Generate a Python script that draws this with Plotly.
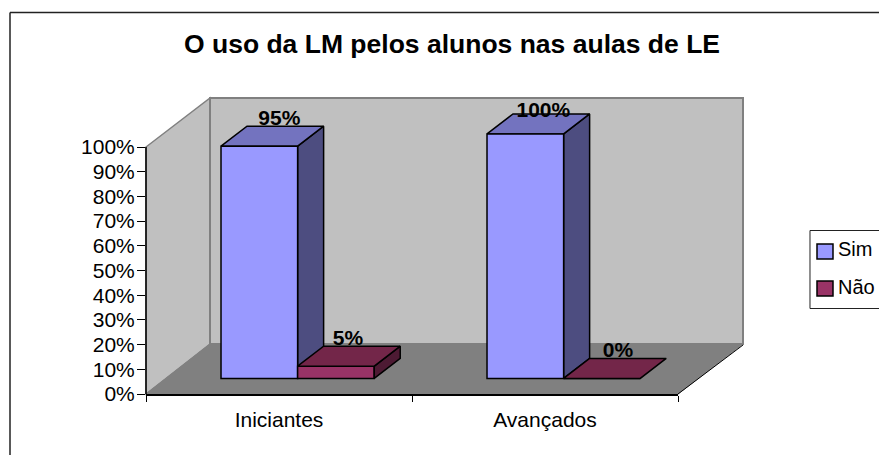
import plotly.graph_objects as go

categories = ["Iniciantes", "Avançados"]
series_names = ["Sim", "Não"]
sim_values = [0.95, 1.00]
nao_values = [0.05, 0.00]
sim_labels = ["95%", "100%"]
nao_labels = ["5%", "0%"]
y_ticks = [i / 10 for i in range(11)]

W, H = 879, 455
L, R, T, B = 146, 678, 98, 394
Y100 = 147
PW, PH = R - L, B - T
UNIT = B - Y100      # pixels for 100 %
BASE = 0.063         # bars stand on the floor, forward of the back wall
SCALE = 0.99
DX = 26 / 266        # bar depth in category units
DY = 20 / UNIT       # bar depth in value units
BAR_W = 0.288
OFF_SIM = -0.218
OFF_NAO = OFF_SIM + BAR_W
FONT = "Liberation Sans, Arial, sans-serif"
COL = {"Sim": ("#9999FF", "#7373BF", "#4D4D80"), "Não": ("#993366", "#732649", "#4D1A33")}
LABEL_SHIFT_PX = [20, 18, 12, 16]
LABEL_DROP_PX = [4, 8, 4, 4]


def px(x):
    return (x - L) / PW


def py(y):
    return (B - y) / PH


def poly(pts, fill, line, width=1.5, layer="below"):
    path = "M" + " L".join(f"{px(a):.5f},{py(b):.5f}" for a, b in pts) + " Z"
    return dict(type="path", xref="paper", yref="paper", path=path, fillcolor=fill,
                line=dict(color=line, width=width), layer=layer)


def seg(x0, y0, x1, y1, color="black", width=1.0, layer="below"):
    return dict(type="line", xref="paper", yref="paper", x0=px(x0), y0=py(y0), x1=px(x1), y1=py(y1),
                line=dict(color=color, width=width), layer=layer)


def faces(idx, off, val, cols, axis):
    x0 = idx + off
    x1 = x0 + BAR_W
    y0 = BASE
    y1 = BASE + val * SCALE
    out = []
    if val > 0:
        out.append(go.Scatter(x=[x1, x1 + DX, x1 + DX, x1, x1], y=[y0, y0 + DY, y1 + DY, y1, y0],
                              mode="lines", fill="toself", fillcolor=cols[2],
                              line=dict(color="black", width=1.5), showlegend=False, hoverinfo="skip",
                              xaxis=axis, yaxis="y"))
    out.append(go.Scatter(x=[x0, x1, x1 + DX, x0 + DX, x0], y=[y1, y1, y1 + DY, y1 + DY, y1],
                          mode="lines", fill="toself", fillcolor=cols[1],
                          line=dict(color="black", width=1.5), showlegend=False, hoverinfo="skip",
                          xaxis=axis, yaxis="y"))
    return out


fig = go.Figure()

for i in range(len(categories)):
    for t in faces(i, OFF_SIM, sim_values[i], COL["Sim"], "x"):
        fig.add_trace(t)

fig.add_trace(go.Bar(name=series_names[0], x=categories, y=[v * SCALE for v in sim_values], base=BASE, width=BAR_W,
                     offset=OFF_SIM, marker=dict(color=COL["Sim"][0], line=dict(color="black", width=1.5)),
                     xaxis="x2", yaxis="y", showlegend=False))
fig.add_trace(go.Bar(name=series_names[1], x=categories, y=[v * SCALE for v in nao_values], base=BASE, width=BAR_W,
                     offset=OFF_NAO, marker=dict(color=COL["Não"][0], line=dict(color="black", width=1.5)),
                     xaxis="x2", yaxis="y", showlegend=False))

for i in range(len(categories)):
    for t in faces(i, OFF_NAO, nao_values[i], COL["Não"], "x3"):
        fig.add_trace(t)

label_x = [i + OFF_SIM + BAR_W / 2 for i in range(2)] + [i + OFF_NAO + BAR_W / 2 for i in range(2)]
fig.add_trace(go.Scatter(
    x=[a + s / 266 for a, s in zip(label_x, LABEL_SHIFT_PX)],
    y=[BASE + v * SCALE + DY - d / UNIT for v, d in zip(sim_values + nao_values, LABEL_DROP_PX)],
    text=sim_labels + nao_labels, mode="text", textposition="top center",
    textfont=dict(family=FONT, size=21, color="black"), texttemplate="<b>%{text}</b>",
    showlegend=False, hoverinfo="skip", xaxis="x3", yaxis="y"))

shapes = [
    poly([(146, 147), (210, 98), (210, 344), (146, 394)], "#C0C0C0", "#808080"),
    poly([(210, 98), (743, 98), (743, 344), (210, 344)], "#C0C0C0", "#808080", 2),
    poly([(146, 394), (210, 344), (743, 344), (678, 394)], "#808080", "#808080", 1),
    seg(678, 394, 743, 345),
    seg(10, 12.5, 10, 456, "#222222", 1.5),
    seg(10, 12.5, 880, 12.5, "#222222", 1.5),
    seg(146, 147, 146, 394, "black", 1.5, "above"),
    # legend frame and swatches
    poly([(810, 230.5), (885, 230.5), (885, 308.5), (810, 308.5)], "white", "#222222", 1, "above"),
    poly([(817, 244), (833, 244), (833, 259), (817, 259)], COL["Sim"][0], "black", 1.5, "above"),
    poly([(817, 281), (833, 281), (833, 296), (817, 296)], COL["Não"][0], "black", 1.5, "above"),
]

annotations = [
    dict(text=series_names[0], xref="paper", yref="paper", x=px(836), y=py(249), xanchor="left", yanchor="middle",
         showarrow=False, font=dict(family=FONT, size=20, color="black")),
    dict(text=series_names[1], xref="paper", yref="paper", x=px(836), y=py(287), xanchor="left", yanchor="middle",
         showarrow=False, font=dict(family=FONT, size=20, color="black")),
]

fig.update_layout(
    width=W, height=H,
    margin=dict(l=L, r=W - R, t=T, b=H - B, pad=0, autoexpand=False),
    paper_bgcolor="white", plot_bgcolor="rgba(0,0,0,0)",
    barmode="overlay",
    font=dict(family=FONT, size=21, color="black"),
    title=dict(text="<b>O uso da LM pelos alunos nas aulas de LE</b>", xref="container", yref="container",
               x=452 / W, y=1 - 44 / H, xanchor="center", yanchor="middle",
               font=dict(family=FONT, size=26.5, color="black")),
    shapes=shapes,
    annotations=annotations,
    xaxis=dict(range=[-0.5, 1.5], visible=False, type="linear"),
    xaxis2=dict(overlaying="x", anchor="y", type="category", range=[-0.5, 1.5], tickson="boundaries",
                ticks="outside", ticklen=6, tickwidth=1.2, tickcolor="black", showline=True,
                linecolor="black", linewidth=1.5, showgrid=False, ticklabelstandoff=6, automargin=False),
    xaxis3=dict(overlaying="x", range=[-0.5, 1.5], visible=False, type="linear"),
    yaxis=dict(range=[0, PH / UNIT], tickmode="array", tickvals=y_ticks, tickformat=".0%", ticks="outside",
               ticklen=8, tickwidth=1.2, tickcolor="black", showline=False, showgrid=False,
               zeroline=False, automargin=False, ticklabelstandoff=-2),
    showlegend=False,
)

fig.write_html("out.html", config={"displayModeBar": False},
               post_script="document.body.style.margin='0';document.documentElement.style.overflow='hidden';")
